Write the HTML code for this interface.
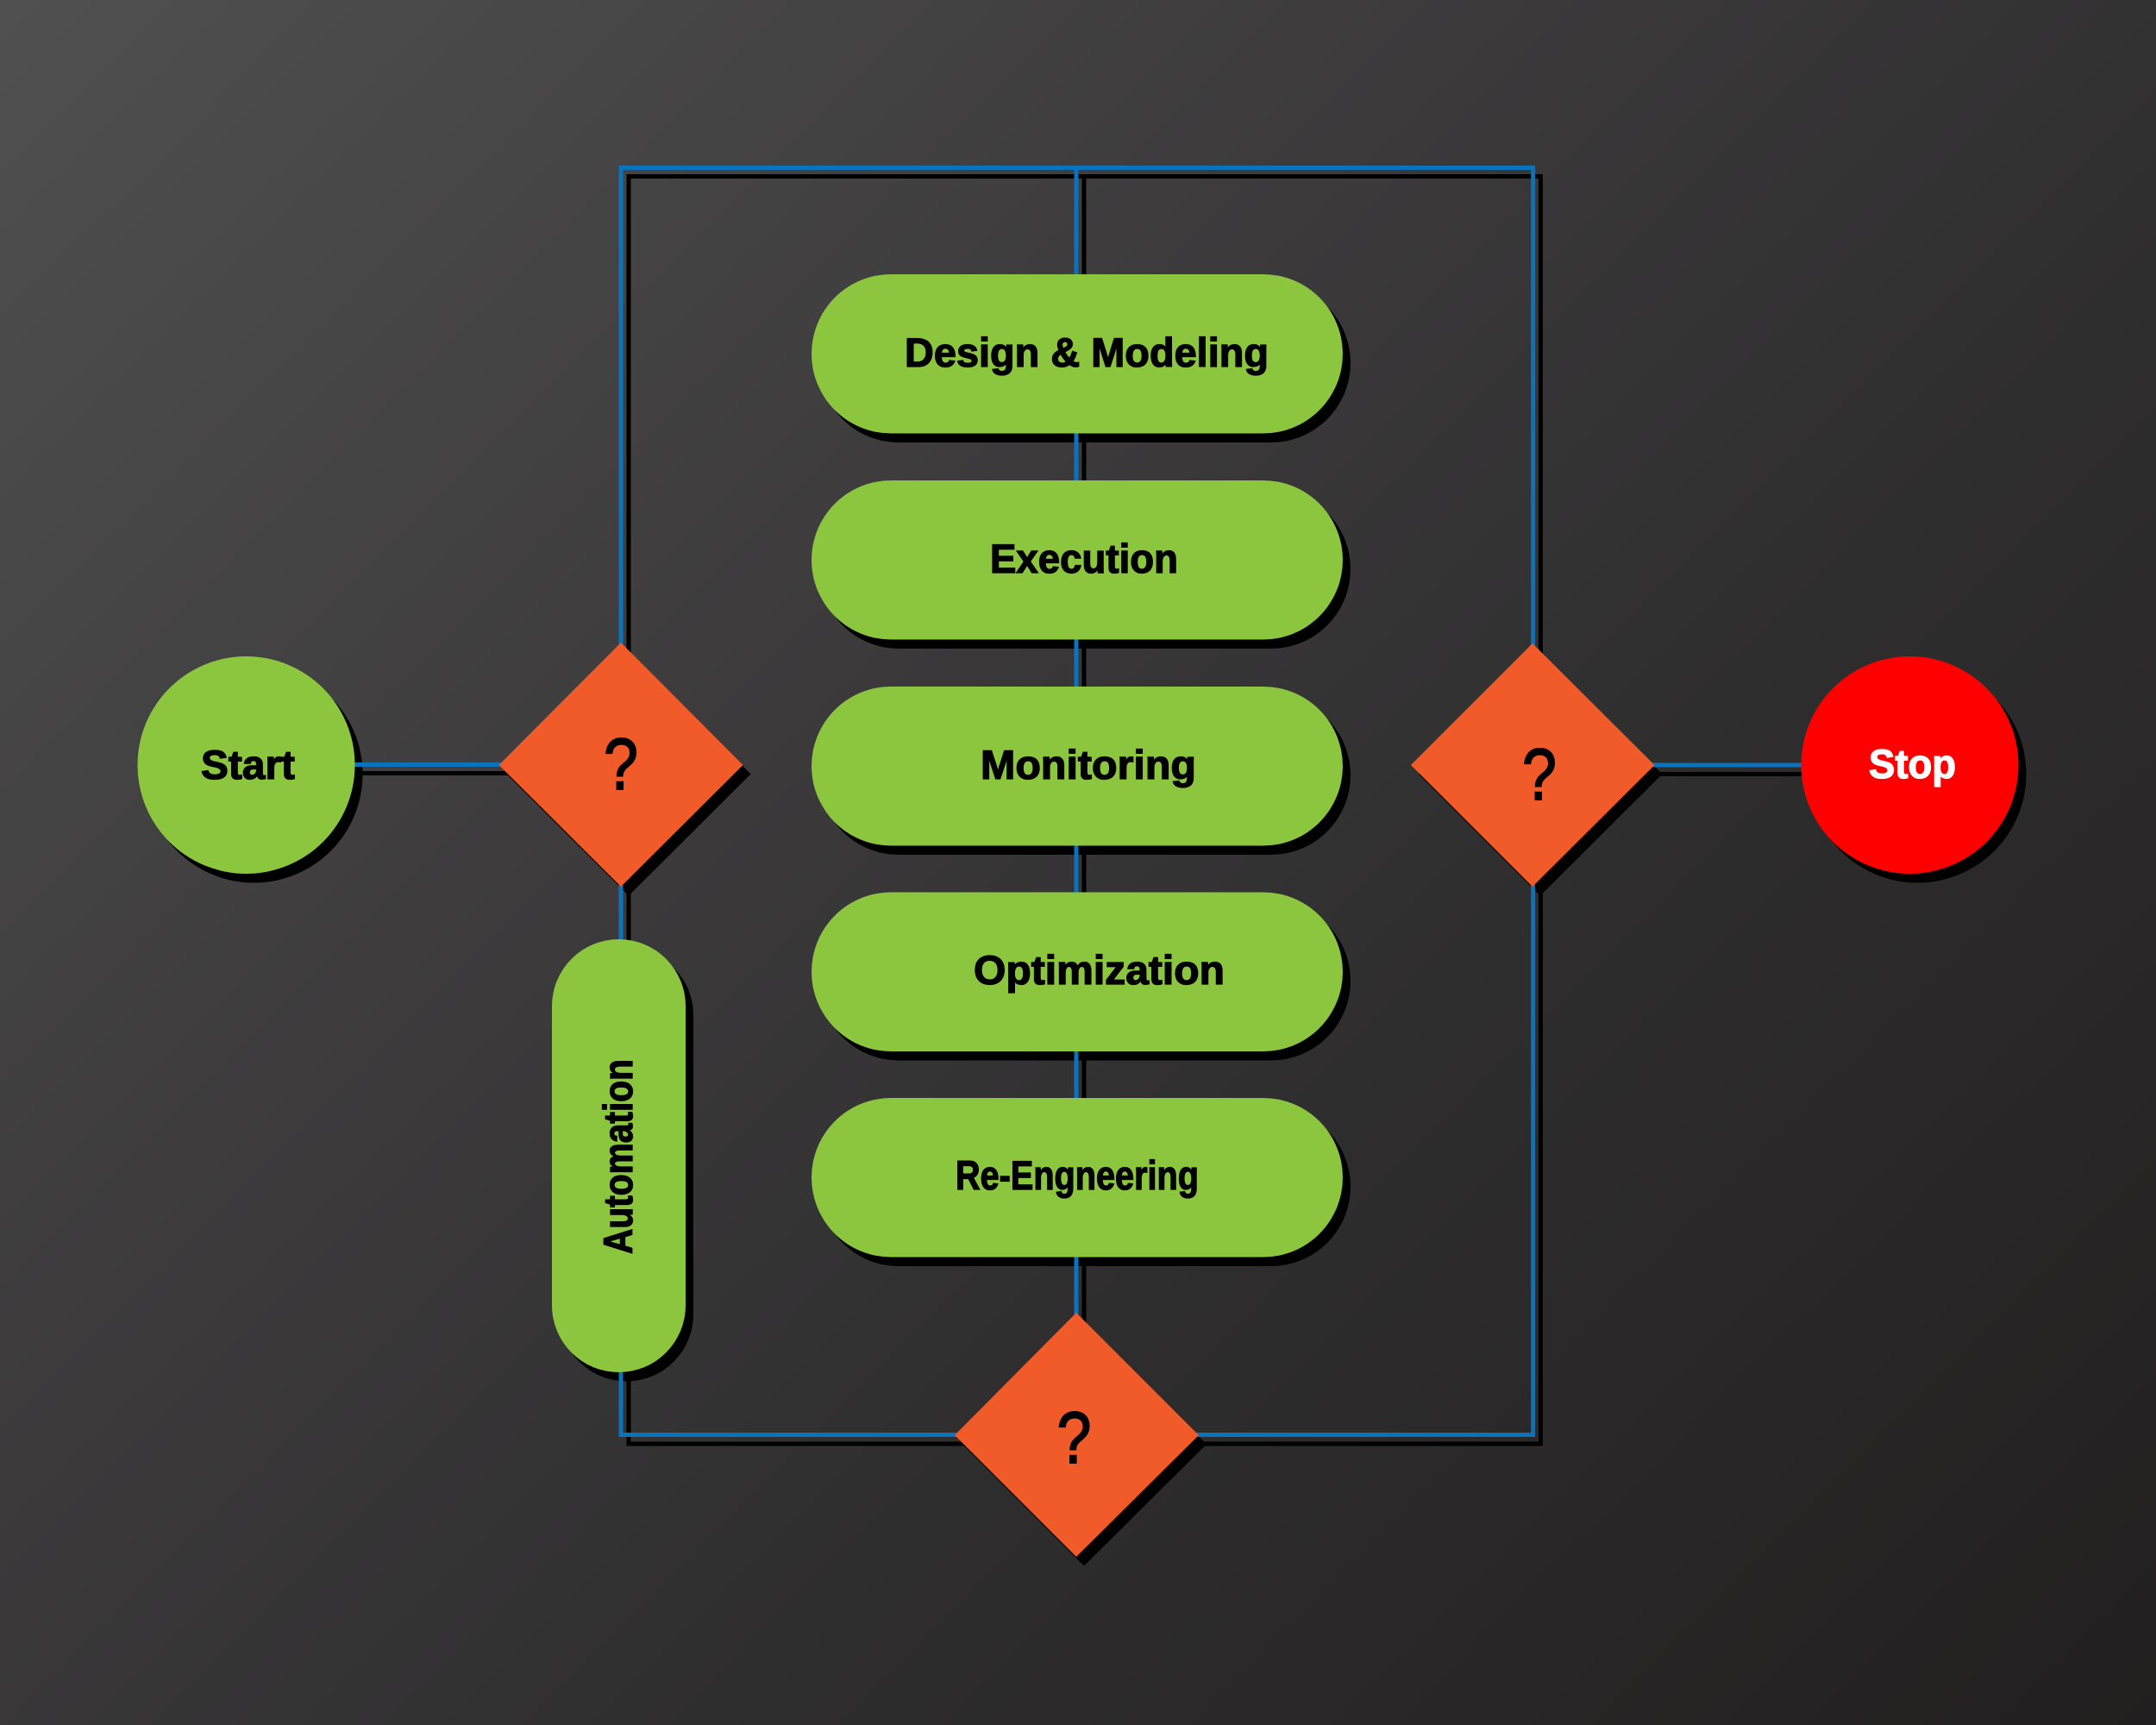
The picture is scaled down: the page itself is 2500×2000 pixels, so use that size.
<!DOCTYPE html>
<html>
<head>
<meta charset="utf-8">
<style>
html,body{margin:0;padding:0;width:2500px;height:2000px;overflow:hidden;background:#333}
svg{display:block}
text{font-family:"Liberation Sans",sans-serif;font-weight:700;fill:#000}
</style>
</head>
<body>
<svg xmlns="http://www.w3.org/2000/svg" width="2500" height="2000" viewBox="0 0 2500 2000">
<defs>
<linearGradient id="bg" gradientUnits="userSpaceOnUse" x1="0" y1="0" x2="2250" y2="2250">
<stop offset="0" stop-color="#505050"/>
<stop offset=".4" stop-color="#3b393a"/>
<stop offset=".53" stop-color="#343334"/>
<stop offset=".64" stop-color="#2e2d2d"/>
<stop offset="1" stop-color="#231f20"/>
</linearGradient>
</defs>
<rect width="2500" height="2000" fill="url(#bg)"/>

<!-- connector shadows -->
<g fill="none" stroke="#000" stroke-width="5">
<rect x="729" y="204.500" width="1057.500" height="1469.500"/>
<path d="M1257 204.500V1674M294 896.500H729M1787 897.500H2224"/>
</g>
<!-- node shadows -->
<g fill="#000">
<circle cx="294.500" cy="897.500" r="126"/>
<circle cx="2223.500" cy="897.500" r="126"/>
<path d="M729 755.500L870.500 897.500L729 1038.500L587.500 897.500Z"/>
<path d="M1786 756.500L1927.500 897.500L1786 1038.500L1645 897.500Z"/>
<path d="M1257 1532.500L1399 1674.500L1257 1815.500L1116 1674.500Z"/>
<rect x="649" y="1099.500" width="155" height="502" rx="77.500" ry="77.500"/>
<rect x="950" y="328.500" width="616" height="184.500" rx="92.250"/>
<rect x="950" y="567.500" width="616" height="184.500" rx="92.250"/>
<rect x="950" y="806.500" width="616" height="184.500" rx="92.250"/>
<rect x="950" y="1045" width="616" height="184.500" rx="92.250"/>
<rect x="950" y="1283.500" width="616" height="184.500" rx="92.250"/>
</g>
<!-- connectors -->
<g fill="none" stroke="#0b72bd" stroke-width="5">
<rect x="720" y="194.500" width="1057.700" height="1469"/>
<path d="M1248 194.500V1664M285 886.500H720M1777 887H2214"/>
</g>
<!-- nodes -->
<circle cx="285.500" cy="887" r="126" fill="#8cc63f"/>
<circle cx="2214.500" cy="887" r="126" fill="#ff0000"/>
<g fill="#f15a29">
<path d="M720 745L861.500 887L720 1028L578.500 887Z"/>
<path d="M1777 746L1918.500 887L1777 1028L1636 887Z"/>
<path d="M1248 1522L1390 1664L1248 1805L1107 1664Z"/>
</g>
<g fill="#8cc63f">
<rect x="640" y="1089" width="155" height="502" rx="77.500" ry="77.500"/>
<rect x="941" y="318" width="616" height="184.500" rx="92.250"/>
<rect x="941" y="557" width="616" height="184.500" rx="92.250"/>
<rect x="941" y="796" width="616" height="184.500" rx="92.250"/>
<rect x="941" y="1034.500" width="616" height="184.500" rx="92.250"/>
<rect x="941" y="1273" width="616" height="184.500" rx="92.250"/>
</g>
<!-- labels -->
<g font-size="47" stroke-width="1.300">
<text stroke="#000" x="1049" y="425" textLength="422" lengthAdjust="spacingAndGlyphs">Design &amp; Modeling</text>
<text stroke="#000" x="1148" y="664" textLength="218" lengthAdjust="spacingAndGlyphs">Execution</text>
<text stroke="#000" x="1137" y="903" textLength="250" lengthAdjust="spacingAndGlyphs">Monitoring</text>
<text stroke="#000" x="1129" y="1141" textLength="291" lengthAdjust="spacingAndGlyphs">Optimization</text>
<text stroke="#000" x="1108" y="1379" textLength="282" lengthAdjust="spacingAndGlyphs">Re-Engneering</text>
<text stroke="#000" x="233" y="903" textLength="109" lengthAdjust="spacingAndGlyphs">Start</text>
<text stroke="#fff" x="2167" y="902" textLength="101" lengthAdjust="spacingAndGlyphs" style="fill:#fff">Stop</text>
<text stroke="#000" transform="translate(733 1454) rotate(-90)" textLength="226" lengthAdjust="spacingAndGlyphs">Automation</text>
</g>
<g font-size="84" stroke="#000" stroke-width="2">
<text transform="translate(720 915) scale(.85 1)" text-anchor="middle" style="font-weight:400">?</text>
<text transform="translate(1785 927) scale(.85 1)" text-anchor="middle" style="font-weight:400">?</text>
<text transform="translate(1245.500 1696) scale(.85 1)" text-anchor="middle" style="font-weight:400">?</text>
</g>
</svg>
</body>
</html>
